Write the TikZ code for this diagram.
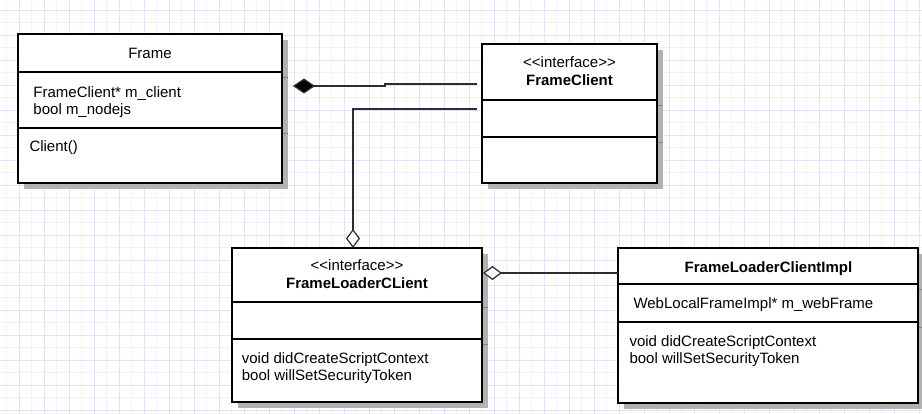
\documentclass[tikz,border=0pt]{standalone}
\usepackage{fontspec}
\setmainfont{Liberation Sans}[Ligatures=TeXOff]
\usetikzlibrary{arrows.meta,calc}
\definecolor{gridmaj}{RGB}{226,226,248}
\definecolor{gridmin}{RGB}{242,242,252}
\definecolor{shadowc}{RGB}{178,178,178}
\definecolor{shadowd}{RGB}{130,130,130}
\definecolor{linec}{RGB}{45,45,45}
\tikzset{
  comp/.style={draw=black, line width=2pt, fill=white, inner sep=0pt, outer sep=0pt, anchor=north west},
  shad/.style={fill=shadowc},
  shline/.style={draw=shadowd, line width=1pt},
  txt/.style={inner sep=0pt, anchor=base west},
  ctxt/.style={inner sep=0pt, anchor=base},
  conn/.style={draw=linec, line width=1.2pt},
  compo/.style={conn, -{Diamond[length=22pt, width=15pt, fill=black]}},
  aggr/.style={conn, -{Diamond[length=19pt, width=14pt, fill=white]}}
}
\begin{document}
\begin{tikzpicture}[x=1pt, y=-1pt, font=\fontsize{15}{17}\selectfont]
\useasboundingbox (0,0) rectangle (922,414);
\fill[white] (0,0) rectangle (922,414);
% grid
\foreach \k in {0,...,36} { \draw[gridmin, line width=0.8pt] ({6.8+25*\k},0) -- ({6.8+25*\k},414); }
\foreach \k in {0,...,15} { \draw[gridmin, line width=0.8pt] (0,{22.5+25*\k}) -- (922,{22.5+25*\k}); }
\foreach \k in {0,...,36} { \draw[gridmaj, line width=0.8pt] ({19.3+25*\k},0) -- ({19.3+25*\k},414); }
\foreach \k in {0,...,16} { \draw[gridmaj, line width=0.8pt] (0,{10+25*\k}) -- (922,{10+25*\k}); }

% shadows
\fill[shad] (24,40) rectangle (288,189);
\draw[shline] (283,78) -- (288,78) (283,134) -- (288,134);
\fill[shad] (488,50) rectangle (663,189);
\draw[shline] (658,106) -- (663,106) (658,143) -- (663,143);
\fill[shad] (238,254) rectangle (488,408);
\draw[shline] (483,308) -- (488,308) (483,345) -- (488,345);
\fill[shad] (624,254) rectangle (924,409);
\draw[shline] (919,290) -- (924,290) (919,328) -- (924,328);

% class Frame
\node[comp, minimum width=264, minimum height=38] (frameT) at (18,34) {};
\node[comp, minimum width=264, minimum height=56] (frameA) at (18,72) {};
\node[comp, minimum width=264, minimum height=55] (frameM) at (18,128) {};
\node[ctxt] (frameN) at (150,59) {Frame};
\node[txt] (frameA1) at (33.3,97.3) {FrameClient* m\_client};
\node[txt] (frameA2) at (33.3,114.3) {bool m\_nodejs};
\node[txt] (frameM1) at (29.3,151.5) {Client()};

% class FrameClient
\node[comp, minimum width=175, minimum height=56] (fcT) at (482,44) {};
\node[comp, minimum width=175, minimum height=37] (fcA) at (482,100) {};
\node[comp, minimum width=175, minimum height=46] (fcM) at (482,137) {};
\node[ctxt] (fcS) at (569.5,68) {<<interface>>};
\node[ctxt, font=\fontsize{15}{17}\selectfont\bfseries] (fcN) at (569.5,85.7) {FrameClient};

% class FrameLoaderCLient
\node[comp, minimum width=250, minimum height=54] (flcT) at (232,248) {};
\node[comp, minimum width=250, minimum height=37] (flcA) at (232,302) {};
\node[comp, minimum width=250, minimum height=63] (flcM) at (232,339) {};
\node[ctxt] (flcS) at (357,271) {<<interface>>};
\node[ctxt, font=\fontsize{15}{17}\selectfont\bfseries] (flcN) at (357,289) {FrameLoaderCLient};
\node[txt] (flcM1) at (241.7,363.7) {void didCreateScriptContext};
\node[txt] (flcM2) at (241.7,381) {bool willSetSecurityToken};

% class FrameLoaderClientImpl
\node[comp, minimum width=300, minimum height=36] (fliT) at (618,248) {};
\node[comp, minimum width=300, minimum height=38] (fliA) at (618,284) {};
\node[comp, minimum width=300, minimum height=81] (fliM) at (618,322) {};
\node[ctxt, font=\fontsize{15}{17}\selectfont\bfseries] (fliN) at (768.5,272.3) {FrameLoaderClientImpl};
\node[txt] (fliA1) at (633.3,309) {WebLocalFrameImpl* m\_webFrame};
\node[txt] (fliM1) at (629.3,347) {void didCreateScriptContext};
\node[txt] (fliM2) at (629.3,363.7) {bool willSetSecurityToken};

% connectors
\coordinate (j1) at (385,84);
\coordinate (j2) at (385,86);
\draw[compo] ($(fcT.north west)+(-5,40)$) -- (j1) -- (j2) -- ($(frameA.north east)+(11,14)$);
\draw[aggr] ($(fcA.north west)+(-5,9)$) -| ($(flcT.north west)+(121,0)$);
\draw[aggr] ($(fliT.north west)+(0,25)$) -- ($(flcT.north east)+(1,25)$);
\end{tikzpicture}
\end{document}
